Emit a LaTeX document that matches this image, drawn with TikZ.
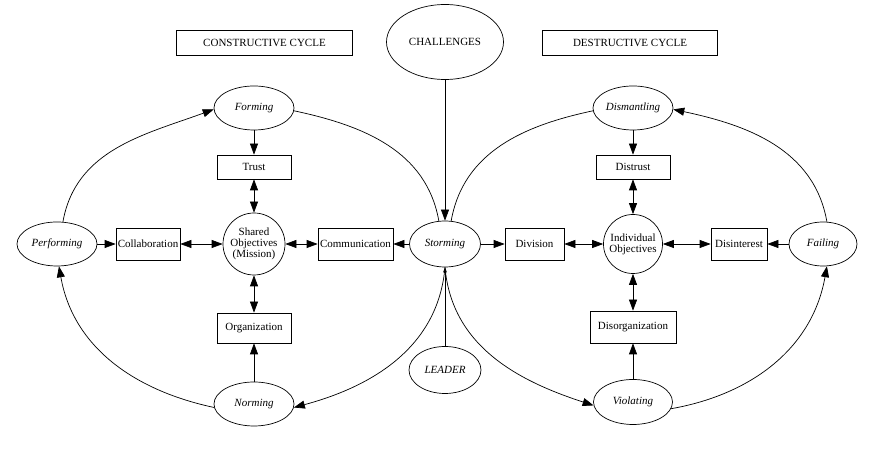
\documentclass[tikz,border=0pt]{standalone}
\usepackage{fontspec}
\setmainfont{Liberation Serif}
\usetikzlibrary{arrows.meta,shapes.geometric}
\begin{document}
\begin{tikzpicture}[x=1pt,y=1pt,
  every node/.style={font=\fontsize{11}{11}\selectfont, inner sep=0pt},
  box/.style={draw, rectangle, line width=0.7pt},
  ell/.style={draw, ellipse, line width=0.7pt, font=\fontsize{11}{11}\selectfont\itshape},
  circ/.style={draw, circle, line width=0.7pt, align=center},
  link/.style={line width=0.7pt, -{Triangle[length=11pt,width=8pt]}},
  dlink/.style={line width=0.7pt, {Triangle[length=11pt,width=8pt]}-{Triangle[length=11pt,width=8pt]}},
  slink/.style={line width=0.7pt, -{Triangle[length=5pt,width=3.5pt]}},
  plain/.style={line width=0.7pt}
]
\useasboundingbox (0,0) rectangle (887,452);

% header
\node[box, minimum width=176, minimum height=25] (cons) at (264.5,409.5) {CONSTRUCTIVE CYCLE};
\node[draw, ellipse, line width=0.7pt, minimum width=117, minimum height=75] (chal) at (445,410) {CHALLENGES};
\node[box, minimum width=175, minimum height=25] (dest) at (630,409.5) {DESTRUCTIVE CYCLE};

% constructive side
\node[ell, minimum width=80, minimum height=44] (forming) at (254,344) {Forming};
\node[box, minimum width=74, minimum height=24] (trust) at (254,285) {Trust};
\node[circ, minimum size=62] (shared) at (254,208) {Shared\\Objectives\\(Mission)};
\node[box, minimum width=74, minimum height=30] (org) at (254,124) {Organization};
\node[ell, minimum width=80, minimum height=44] (norm) at (254,48) {Norming};
\node[ell, minimum width=80, minimum height=44] (perf) at (57,208) {Performing};
\node[box, minimum width=64, minimum height=32] (collab) at (148,208) {Collaboration};
\node[box, minimum width=75, minimum height=32] (comm) at (355.5,208) {Communication};

% middle
\node[ell, minimum width=71, minimum height=46] (storm) at (445,208) {Storming};
\node[ell, minimum width=72, minimum height=47] (leader) at (445,82) {LEADER};

% destructive side
\node[ell, minimum width=80, minimum height=44] (dism) at (633,344) {Dismantling};
\node[box, minimum width=74, minimum height=24] (distrust) at (633,285) {Distrust};
\node[circ, minimum size=59] (indiv) at (633,208) {Individual\\Objectives};
\node[box, minimum width=86, minimum height=32] (disorg) at (633,125) {Disorganization};
\node[ell, minimum width=79, minimum height=45] (viol) at (633,50) {Violating};
\node[box, minimum width=59, minimum height=32] (div) at (534.5,208) {Division};
\node[box, minimum width=56, minimum height=32] (disint) at (739,208) {Disinterest};
\node[ell, minimum width=68, minimum height=44] (fail) at (823,208) {Failing};

% straight connectors
\draw[link] (chal) -- (storm);
\draw[slink] (leader) -- (storm);
\draw[link] (forming) -- (trust);
\draw[dlink] (trust) -- (shared);
\draw[dlink] (shared) -- (org);
\draw[link] (norm) -- (org);
\draw[link] (perf) -- (collab);
\draw[dlink] (collab) -- (shared);
\draw[dlink] (shared) -- (comm);
\draw[link] (storm) -- (comm);
\draw[link] (storm) -- (div);
\draw[dlink] (div) -- (indiv);
\draw[dlink] (indiv) -- (disint);
\draw[link] (fail) -- (disint);
\draw[link] (dism) -- (distrust);
\draw[dlink] (distrust) -- (indiv);
\draw[dlink] (indiv) -- (disorg);
\draw[link] (viol) -- (disorg);

% curves
\draw[link] (perf.75) to[out=80,in=200] (forming.182);
\draw[plain] (forming.-4) to[out=-12,in=100] (storm.105);
\draw[plain] (storm.75) to[out=80,in=192] (dism.184);
\draw[link] (fail.80) to[out=100,in=-12] (dism.-2);
\draw[link] (storm.south) to[out=-95,in=15] (norm.-5);
\draw[link] (norm.185) to[out=168,in=-80] (perf.-85);
\draw[link] (storm.south) to[out=-85,in=162] (viol.185);
\draw[link] (viol.-10) to[out=10,in=-100] (fail.-80);
\end{tikzpicture}
\end{document}
